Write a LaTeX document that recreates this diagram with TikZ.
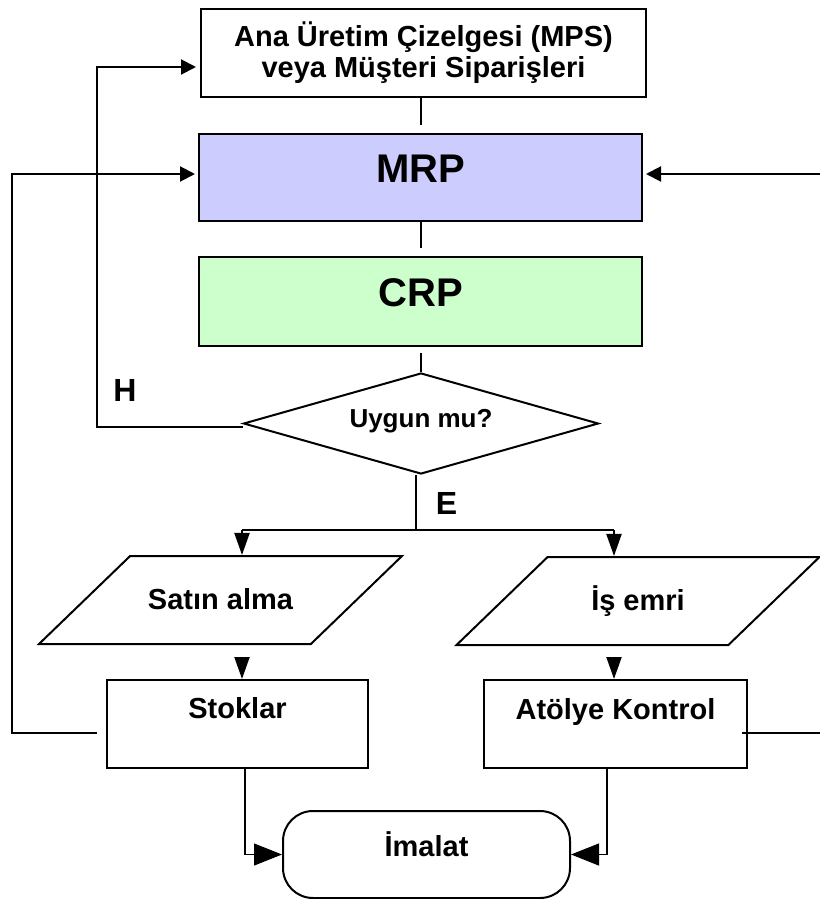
\documentclass[tikz,border=0pt]{standalone}
\usepackage{fontspec}
\setmainfont{Liberation Sans}
\usetikzlibrary{shapes.geometric,arrows.meta,calc}

\definecolor{mrpfill}{RGB}{204,204,255}
\definecolor{crpfill}{RGB}{204,255,204}

\begin{document}
\begin{tikzpicture}[x=1pt,y=-1pt,
  txt/.style={font=\bfseries\fontsize{#1pt}{#1pt}\selectfont},
  box/.style={draw, line width=2pt, inner sep=0pt},
  slanted/.style={box, trapezium, trapezium left angle=44, trapezium right angle=136,
    trapezium stretches body, minimum width=363pt,
    text height=53pt, text depth=35pt, txt=29},
  conn/.style={line width=2pt},
  thinconn/.style={line width=1.1pt},
  tipside/.style={-{Triangle[length=15pt,width=15pt]}},
  tipdown/.style={-{Triangle[length=22pt,width=15pt]}},
  tipbig/.style={-{Triangle[length=28pt,width=22pt]}}
]
\useasboundingbox (0,0) rectangle (819,899);

% planning boxes
\node[box, minimum width=445pt, minimum height=88pt, align=center,
      font=\bfseries\fontsize{29pt}{31pt}\selectfont] (mps) at (423.5,53)
  {Ana Üretim Çizelgesi (MPS)\\veya Müşteri Siparişleri};
\node[box, fill=mrpfill, minimum width=443pt, text height=48pt, text depth=39pt, txt=40]
  (mrp) at (420.5,177.5) {MRP};
\node[box, fill=crpfill, minimum width=443pt, text height=49pt, text depth=40pt, txt=40]
  (crp) at (420.5,301.5) {CRP};

% decision
\node[box, diamond, aspect=3.515, minimum width=355pt, minimum height=101pt,
      text height=20pt, text depth=13pt, txt=26] (dia) at (421,423.5) {Uygun mu?};
\node[txt=32] (hlab) at (125,390) {H};
\node[txt=32] (elab) at (446.5,503) {E};

% orders
\node[slanted] (satin) at (220.5,600) {Satın alma};
\node[slanted] (isemri) at (638,601) {İş emri};

% execution
\node[box, minimum width=261pt, text height=38pt, text depth=50pt, txt=29]
  (stok) at (237.5,724) {Stoklar};
\node[box, minimum width=263pt, text height=39pt, text depth=49pt, txt=29]
  (atol) at (615.5,724) {Atölye Kontrol};
\node[box, rounded corners=30pt, minimum width=287pt, text height=45pt, text depth=42pt, txt=29]
  (imalat) at (426.5,854.5) {İmalat};

% routing points
\coordinate (forkL) at (242,530);
\coordinate (forkR) at (614,530);
\coordinate (hx) at (97,67);
\coordinate (lx) at (12,174);
\coordinate (rx) at (822,174);
\coordinate (sout) at ([shift={(-9pt,-9pt)}]stok.west);
\coordinate (aout) at ([shift={(-6pt,-9pt)}]atol.east);
\coordinate (rcorner) at (rx |- aout);

% main flow
\draw[conn] (mps.south -| mrp.north) -- ([yshift=8pt]mrp.north);
\draw[conn] (mrp.south) -- ([yshift=8pt]crp.north);
\draw[conn, shorten <=6pt] (crp.south) -- (crp.south |- dia.north);
\draw[conn] ([xshift=-5pt]dia.south) -- ([xshift=-5pt]dia.south |- forkL);
\draw[conn] (forkL) -- (forkR);
\draw[conn, tipdown] (forkL) -- (forkL |- satin.north);
\draw[conn, tipdown] (forkR) -- (forkR |- isemri.north);
\draw[conn, tipdown, shorten <=13pt] (forkL |- satin.south) -- (forkL |- stok.north);
\draw[conn, tipdown, shorten <=13pt] (forkR |- isemri.south) -- (forkR |- atol.north);
\draw[thinconn, tipbig] ([xshift=7.5pt]stok.south) |- (imalat.west);
\draw[thinconn, tipbig] ([xshift=-8.5pt]atol.south) |- (imalat.east);

% feedback loops
\draw[conn, tipside, shorten >=4pt] ([yshift=-3pt]dia.west) -| (hx) -- (hx -| mps.west);
\draw[conn, tipside, shorten >=3pt] (sout) -| (lx) -- (lx -| mrp.west);
\draw[thinconn] (aout) -- (rcorner);
\draw[conn, tipside, shorten >=3pt] (rcorner) -- (rx) -- (rx -| mrp.east);
\end{tikzpicture}
\end{document}
